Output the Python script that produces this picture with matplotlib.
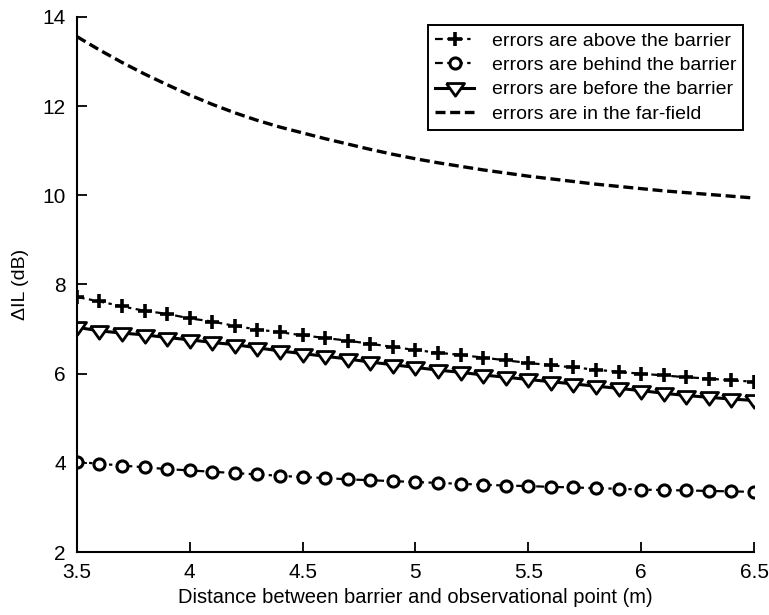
import matplotlib
matplotlib.use("Agg")
import matplotlib.pyplot as plt
import numpy as np

plt.rcParams['font.family'] = ['Liberation Sans', 'DejaVu Sans']

# distance between barrier and observational point (m)
distance = [3.5, 3.6, 3.7, 3.8, 3.9, 4.0, 4.1, 4.2, 4.3, 4.4, 4.5,
            4.6, 4.7, 4.8, 4.9, 5.0, 5.1, 5.2, 5.3, 5.4, 5.5,
            5.6, 5.7, 5.8, 5.9, 6.0, 6.1, 6.2, 6.3, 6.4, 6.5]

# delta IL (dB) for each error sensor position
above = [7.72, 7.62, 7.51, 7.41, 7.34, 7.24, 7.17, 7.07, 6.99, 6.93, 6.86,
         6.80, 6.74, 6.67, 6.60, 6.53, 6.47, 6.42, 6.36, 6.30, 6.24,
         6.19, 6.14, 6.09, 6.04, 6.00, 5.96, 5.92, 5.89, 5.85, 5.82]
behind = [4.02, 3.98, 3.94, 3.90, 3.86, 3.83, 3.80, 3.77, 3.74, 3.71, 3.68,
          3.66, 3.63, 3.61, 3.59, 3.57, 3.55, 3.53, 3.51, 3.49, 3.48,
          3.46, 3.45, 3.43, 3.42, 3.40, 3.39, 3.38, 3.37, 3.36, 3.35]
before = [7.04, 6.96, 6.91, 6.87, 6.81, 6.76, 6.70, 6.65, 6.58, 6.51, 6.45,
          6.39, 6.33, 6.26, 6.20, 6.14, 6.08, 6.03, 5.97, 5.92, 5.87,
          5.82, 5.77, 5.72, 5.67, 5.62, 5.56, 5.51, 5.47, 5.43, 5.40]
farfield = [13.56, 13.26, 12.98, 12.72, 12.48, 12.25, 12.04, 11.85, 11.68, 11.53, 11.40,
            11.27, 11.15, 11.03, 10.92, 10.82, 10.73, 10.65, 10.57, 10.50, 10.43,
            10.37, 10.31, 10.25, 10.20, 10.15, 10.10, 10.06, 10.02, 9.98, 9.94]

labels = ["errors are above the barrier", "errors are behind the barrier",
          "errors are before the barrier", "errors are in the far-field"]

# wide, flat downward triangle like the original marker
tri = [(-1.0, 0.55), (1.0, 0.55), (0.0, -0.85), (-1.0, 0.55)]

fig = plt.figure(figsize=(7.69, 6.15), dpi=100)
ax = fig.add_axes([0.100, 0.1024, 0.8805, 0.870])

ax.plot(distance, above, color='black', lw=1.6, dashes=(3.5, 2, 1.5, 2),
        marker='+', ms=10, mew=2.6, label=labels[0])
ax.plot(distance, behind, color='black', lw=1.6, dashes=(3.5, 2, 1.5, 2),
        marker='o', ms=8, mew=2.2, mfc='white', label=labels[1])
ax.plot(distance, before, color='black', lw=2.2, ls='-',
        marker=tri, ms=13, mew=2.0, mfc='white', label=labels[2])
ax.plot(distance, farfield, color='black', lw=2.4, dashes=(3.0, 1.4),
        label=labels[3])

ax.set_xlim(3.5, 6.5)
ax.set_ylim(2, 14)
ax.set_xticks([3.5, 4, 4.5, 5, 5.5, 6, 6.5])
ax.set_xticklabels(['3.5', '4', '4.5', '5', '5.5', '6', '6.5'])
ax.set_yticks([2, 4, 6, 8, 10, 12, 14])

ax.spines['top'].set_visible(False)
ax.spines['right'].set_visible(False)
ax.spines['left'].set_linewidth(1.5)
ax.spines['bottom'].set_linewidth(1.5)
ax.tick_params(direction='in', length=7, width=1.3, labelsize=15, pad=8)

ax.set_xlabel("Distance between barrier and observational point (m)", fontsize=14.5, labelpad=4)
ax.set_ylabel("\u0394IL (dB)", fontsize=14, labelpad=10)

leg = ax.legend(loc='upper right', bbox_to_anchor=(0.966, 0.959),
                bbox_transform=fig.transFigure, borderaxespad=0,
                fontsize=14, fancybox=False, framealpha=1, edgecolor='black',
                handlelength=2.0, handletextpad=0.9, labelspacing=0.35,
                borderpad=0.35)
leg.get_frame().set_linewidth(1.4)

fig.savefig("out.png", dpi=100)
